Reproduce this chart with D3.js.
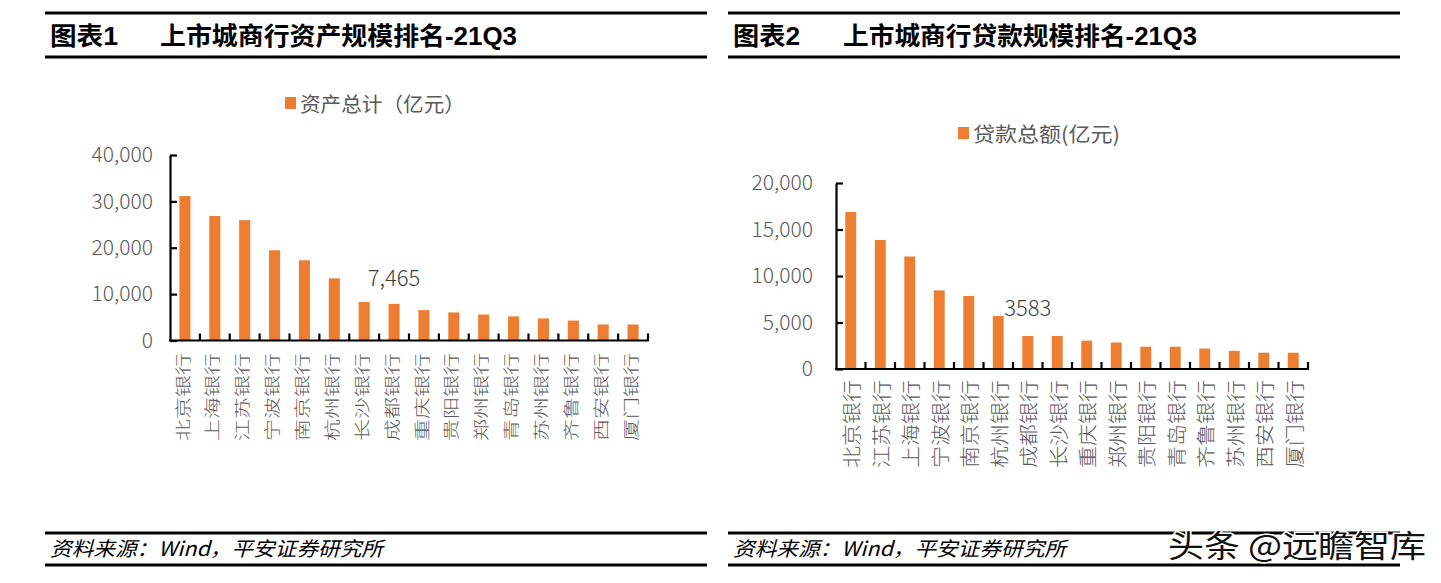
<!DOCTYPE html>
<html><head><meta charset="utf-8">
<script src="https://cdn.jsdelivr.net/npm/d3@7/dist/d3.min.js"></script>
<style>
html,body{margin:0;padding:0;background:#fff;}
svg{display:block;}
</style></head>
<body>
<svg id="chart" width="1441" height="583"></svg>
<script>
// ---------- data ----------
const assetCategories = ["北京银行","上海银行","江苏银行","宁波银行","南京银行","杭州银行","长沙银行","成都银行","重庆银行","贵阳银行","郑州银行","青岛银行","苏州银行","齐鲁银行","西安银行","厦门银行"];
const assetValues = [31150,26850,25950,19450,17300,13400,8300,7900,6550,6050,5600,5200,4750,4300,3450,3450];
const assetTicks = [0,10000,20000,30000,40000];
const assetLabel = {index:7, text:"7,465"};

const loanCategories = ["北京银行","江苏银行","上海银行","宁波银行","南京银行","杭州银行","成都银行","长沙银行","重庆银行","郑州银行","贵阳银行","青岛银行","齐鲁银行","苏州银行","西安银行","厦门银行"];
const loanValues = [16880,13870,12100,8450,7850,5700,3550,3550,3050,2850,2400,2400,2200,1950,1750,1750];
const loanTicks = [0,5000,10000,15000,20000];
const loanLabel = {index:6, text:"3583"};

const titles = [["图表1","上市城商行资产规模排名-21Q3"],["图表2","上市城商行贷款规模排名-21Q3"]];
const legends = ["资产总计（亿元）","贷款总额(亿元)"];
const source = "资料来源：Wind，平安证券研究所";
const watermark = "头条 @远瞻智库";

// ---------- drawing ----------
const svg = d3.select("#chart");
const ORANGE = "#ED7D31", GREY = "#595959";
const CJK = "'Noto Sans CJK SC','Noto Sans',sans-serif";
const TITLEF = "'Liberation Sans','Noto Sans CJK SC',sans-serif";

function panelFrame(x0, x1, t, legendText, legendX, legendY, legendW) {
  const g = svg.append("g");
  g.append("line").attr("x1",x0).attr("x2",x1).attr("y1",13).attr("y2",13).attr("stroke","#000").attr("stroke-width",3);
  g.append("line").attr("x1",x0).attr("x2",x1).attr("y1",57).attr("y2",57).attr("stroke","#000").attr("stroke-width",3);
  g.append("text").attr("x",x0+5).attr("y",45).text(t[0])
    .attr("font-family",TITLEF).attr("font-weight","bold").attr("font-size",25).attr("fill","#000")
    .attr("textLength",t[2]).attr("lengthAdjust","spacingAndGlyphs");
  g.append("text").attr("x",x0+115).attr("y",45).text(t[1])
    .attr("font-family",TITLEF).attr("font-weight","bold").attr("font-size",25).attr("fill","#000")
    .attr("textLength",t[3]).attr("lengthAdjust","spacingAndGlyphs");
  // footer
  g.append("line").attr("x1",x0).attr("x2",x1).attr("y1",533).attr("y2",533).attr("stroke","#000").attr("stroke-width",3);
  g.append("line").attr("x1",x0).attr("x2",x1).attr("y1",565).attr("y2",565).attr("stroke","#000").attr("stroke-width",3);
  g.append("text").attr("x",x0+5).attr("y",556).text(source)
    .attr("font-family",CJK).attr("font-style","italic").attr("font-size",20).attr("fill","#000")
    .attr("textLength",333).attr("lengthAdjust","spacingAndGlyphs");
  // legend
  g.append("rect").attr("x",legendX).attr("y",legendY-6).attr("width",11).attr("height",12).attr("fill",ORANGE);
  g.append("text").attr("x",legendX+15).attr("y",legendY).attr("dominant-baseline","central").text(legendText)
    .attr("font-family",CJK).attr("font-size",20.5).attr("fill",GREY)
    .attr("textLength",legendW).attr("lengthAdjust","spacingAndGlyphs");
}

function barChart(o) {
  const g = svg.append("g");
  const x = d3.scaleBand().domain(o.categories).range([o.x0,o.x1]).paddingInner(0.63).paddingOuter(0.315);
  const y = d3.scaleLinear().domain([0,o.max]).range([o.yBottom,o.yTop]);
  // bars
  g.selectAll("rect.bar").data(o.values).join("rect").attr("class","bar")
    .attr("x",(d,i)=>x(o.categories[i])).attr("width",x.bandwidth())
    .attr("y",d=>y(d)).attr("height",d=>y(0)-y(d)).attr("fill",ORANGE);
  // y axis
  const ya = d3.axisLeft(y).tickValues(o.ticks).tickFormat(d3.format(",")).tickSizeInner(-7).tickSizeOuter(0).tickPadding(o.labelGap);
  const yg = g.append("g").attr("transform",`translate(${o.x0},0)`).call(ya);
  yg.select(".domain").attr("stroke","#000").attr("stroke-width",2.2);
  yg.selectAll(".tick line").attr("stroke","#000").attr("stroke-width",2.2);
  yg.selectAll(".tick text").attr("font-family",CJK).attr("font-size",21).attr("fill",GREY).attr("font-weight",300);
  // x axis line and boundary ticks
  g.append("line").attr("x1",o.x0-1).attr("x2",o.x1+1).attr("y1",y(0)).attr("y2",y(0)).attr("stroke","#000").attr("stroke-width",2.2);
  const step = x.step();
  const bounds = d3.range(1, o.categories.length+1).map(i => o.x0 + i*step);
  g.selectAll("line.xt").data(bounds).join("line").attr("class","xt")
    .attr("x1",d=>d).attr("x2",d=>d).attr("y1",y(0)).attr("y2",y(0)-7).attr("stroke","#000").attr("stroke-width",2.2);
  // category labels (rotated)
  o.categories.forEach((c,i) => {
    const cx = x(c) + x.bandwidth()/2 + o.labelDx;
    g.append("text")
      .attr("transform",`translate(${cx},${o.labelTop}) rotate(-90) scale(1,${o.labelSquash})`)
      .attr("text-anchor","end").attr("dominant-baseline","central")
      .attr("font-family",CJK).attr("font-size",22).attr("fill",GREY).attr("font-weight",300)
      .text(c);
  });
  // data label
  const a = o.annot;
  g.append("text").attr("x",x(o.categories[a.index])+x.bandwidth()/2)
    .attr("y",y(o.values[a.index]) - o.annotGap)
    .attr("text-anchor","middle").attr("font-family",CJK).attr("font-size",22).attr("fill","#404040").attr("font-weight",300)
    .text(a.text);
}

panelFrame(45, 707, [titles[0][0], titles[0][1], 68, 357], legends[0], 285, 103, 165);
panelFrame(728, 1400, [titles[1][0], titles[1][1], 67, 354], legends[1], 958, 133, 147);

barChart({categories:assetCategories, values:assetValues, ticks:assetTicks, max:40000,
  x0:170, x1:648, yBottom:340.5, yTop:155, labelGap:17, labelTop:353, labelSquash:0.72, labelDx:-3,
  annot:assetLabel, annotGap:18});
barChart({categories:loanCategories, values:loanValues, ticks:loanTicks, max:20000,
  x0:836, x1:1308, yBottom:369, yTop:183, labelGap:23, labelTop:380, labelSquash:0.9, labelDx:0,
  annot:loanLabel, annotGap:20});

// watermark
svg.append("text").attr("x",1168).attr("y",557).text(watermark)
  .attr("font-family",CJK).attr("font-size",31).attr("fill","#111")
  .attr("stroke","#fff").attr("stroke-width",3).attr("paint-order","stroke")
  .attr("textLength",258).attr("lengthAdjust","spacingAndGlyphs");
</script>
</body></html>
